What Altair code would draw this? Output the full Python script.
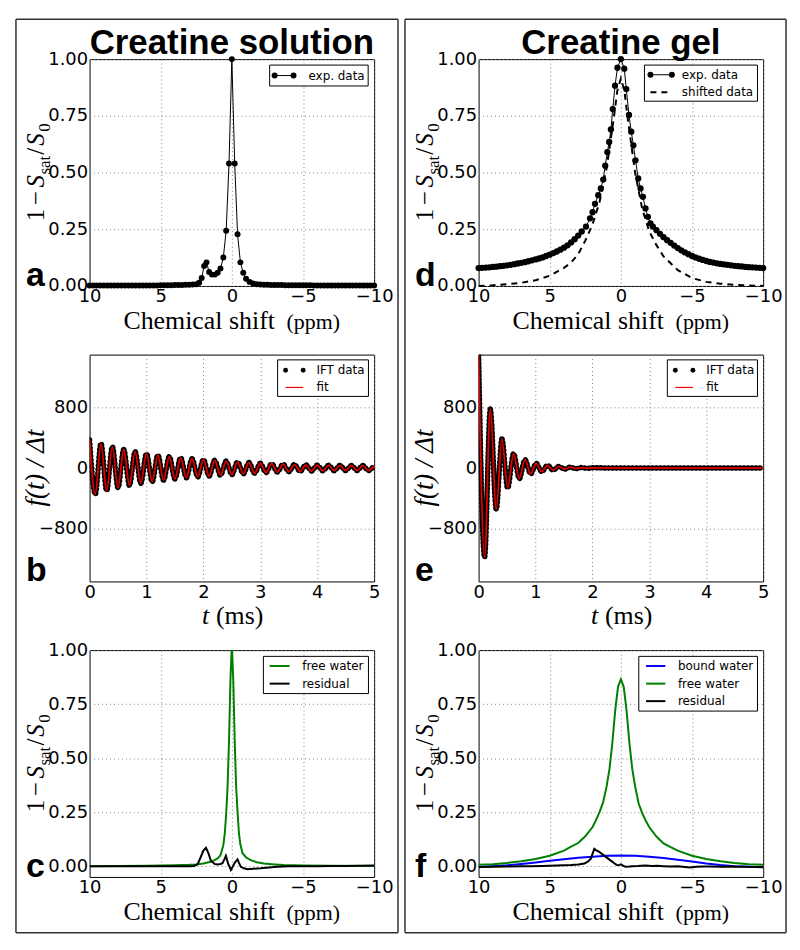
import altair as alt
import pandas as pd

# ---------------- data ----------------
# (a) creatine solution, measured Z-spectrum
a_ppm = [10.0, 9.75, 9.5, 9.25, 9.0, 8.75, 8.5, 8.25, 8.0, 7.75, 7.5, 7.25, 7.0, 6.75, 6.5, 6.25,
         6.0, 5.75, 5.5, 5.25, 5.0, 4.75, 4.5, 4.25, 4.0, 3.75, 3.5, 3.25, 3.0, 2.75,
         2.5, 2.3, 2.12, 1.95, 1.78, 1.6, 1.4, 1.2, 1.0, 0.8, 0.6, 0.4, 0.2, 0.0,
         -0.2, -0.4, -0.6, -0.8, -1.0, -1.25, -1.5, -1.75, -2.0,
         -2.25, -2.5, -2.75, -3.0, -3.25, -3.5, -3.75, -4.0, -4.25, -4.5, -4.75, -5.0,
         -5.25, -5.5, -5.75, -6.0, -6.25, -6.5, -6.75, -7.0, -7.25, -7.5, -7.75, -8.0,
         -8.25, -8.5, -8.75, -9.0, -9.25, -9.5, -9.75, -10.0]
a_val = [0.002, 0.002, 0.002, 0.002, 0.002, 0.002, 0.002, 0.002, 0.002, 0.002, 0.002, 0.002, 0.002,
         0.002, 0.002, 0.002, 0.002, 0.002, 0.002, 0.002, 0.003, 0.003, 0.003, 0.003, 0.004, 0.004,
         0.004, 0.005, 0.005, 0.006,
         0.008, 0.014, 0.035, 0.088, 0.104, 0.062, 0.05, 0.05, 0.058, 0.077, 0.125, 0.243, 0.54, 1.0,
         0.54, 0.228, 0.104, 0.058, 0.032, 0.018, 0.011, 0.008, 0.006,
         0.005, 0.005, 0.004, 0.004, 0.004, 0.004, 0.003, 0.003, 0.003, 0.003, 0.003, 0.003,
         0.003, 0.003, 0.002, 0.002, 0.002, 0.002, 0.002, 0.002, 0.002, 0.002, 0.002, 0.002,
         0.002, 0.002, 0.002, 0.002, 0.002, 0.002, 0.002, 0.002]

# (d) creatine gel, measured Z-spectrum and shifted data
d_ppm = [10.0, 9.75, 9.5, 9.25, 9.0, 8.75, 8.5, 8.25, 8.0, 7.75, 7.5, 7.25, 7.0, 6.75, 6.5, 6.25,
         6.0, 5.75, 5.5, 5.25, 5.0, 4.75, 4.5, 4.25, 4.0, 3.75, 3.5, 3.25, 3.0, 2.75,
         2.45, 2.17, 1.99, 1.82, 1.59, 1.41, 1.24, 1.1, 0.95, 0.82, 0.7, 0.57, 0.41, 0.24, 0.0,
         -0.24, -0.38, -0.57, -0.73, -0.88, -1.03, -1.22, -1.38, -1.55, -1.73, -1.9, -2.08,
         -2.25, -2.5, -2.75, -3.0, -3.25, -3.5, -3.75, -4.0, -4.25, -4.5, -4.75, -5.0,
         -5.25, -5.5, -5.75, -6.0, -6.25, -6.5, -6.75, -7.0, -7.25, -7.5, -7.75, -8.0,
         -8.25, -8.5, -8.75, -9.0, -9.25, -9.5, -9.75, -10.0]
d_val = [0.079, 0.080, 0.081, 0.082, 0.084, 0.085, 0.087, 0.089, 0.091, 0.093, 0.096, 0.099, 0.102,
         0.105, 0.109, 0.113, 0.117, 0.121, 0.126, 0.132, 0.138, 0.145, 0.152, 0.160, 0.169, 0.179,
         0.192, 0.206, 0.222, 0.240,
         0.262, 0.298, 0.325, 0.362, 0.40, 0.43, 0.469, 0.53, 0.59, 0.635, 0.69, 0.78, 0.883, 0.962, 1.0,
         0.958, 0.868, 0.754, 0.68, 0.62, 0.554, 0.474, 0.43, 0.393, 0.342, 0.305, 0.276,
         0.262, 0.246, 0.230, 0.215, 0.202, 0.190, 0.178, 0.167, 0.157, 0.148, 0.140, 0.132,
         0.126, 0.120, 0.115, 0.110, 0.106, 0.103, 0.100, 0.097, 0.095, 0.093, 0.091, 0.089,
         0.087, 0.086, 0.084, 0.083, 0.082, 0.081, 0.080, 0.079]
ds_ppm = [10.0, 9.0, 8.0, 7.0, 6.0, 5.0, 4.0, 3.5, 3.0, 2.5, 2.0, 1.5, 1.0, 0.5, 0.25, 0.0,
          -0.25, -0.5, -1.0, -1.5, -2.0, -2.5, -3.0, -3.5, -4.0, -5.0, -6.0, -7.0, -8.0, -9.0, -10.0]
ds_val = [0.0, 0.003, 0.008, 0.014, 0.025, 0.045, 0.08, 0.103, 0.14, 0.2, 0.27, 0.37, 0.52, 0.74, 0.86,
          0.915, 0.86, 0.73, 0.5, 0.34, 0.24, 0.18, 0.13, 0.1, 0.07, 0.035, 0.018, 0.01, 0.005, 0.002, 0.0]

# (b) creatine solution, IFT data (extrema of the oscillation)
b_t = [0.0, 0.1, 0.2, 0.3, 0.4, 0.5, 0.6, 0.7, 0.8, 0.9, 1.0, 1.1, 1.2, 1.3, 1.4, 1.5, 1.6, 1.7,
       1.8, 1.9, 2.0, 2.1, 2.2, 2.3, 2.4, 2.5, 2.6, 2.7, 2.8, 2.9, 3.0, 3.1, 3.2, 3.3, 3.4, 3.5,
       3.6, 3.7, 3.8, 3.9, 4.0, 4.1, 4.2, 4.3, 4.4, 4.5, 4.6, 4.7, 4.8, 4.9, 5.0]
b_f = [375, -345, 325, -300, 280, -262, 245, -230, 215, -202, 190, -180, 170, -160, 152, -144,
       136, -129, 123, -117, 112, -106, 101, -96, 91, -86, 81, -76, 72, -68, 63, -60, 57, -54,
       51, -48, 46, -44, 42, -40, 38, -37, 36, -35, 35, -34, 34, -33, 33, -32, 32]

# (e) creatine gel, IFT data (extrema of the oscillation)
e_t = [0.0, 0.105, 0.205, 0.31, 0.41, 0.51, 0.615, 0.715, 0.815, 0.915, 1.01, 1.11, 1.21, 1.31,
       1.41, 1.51, 1.61, 1.71, 1.81, 1.91, 2.0, 2.5, 3.0, 3.5, 4.0, 4.5, 5.0]
e_f = [1490, -1180, 780, -545, 385, -265, 190, -140, 110, -78, 62, -48, 36, -28, 21, -15, 11, -8,
       6, -4, 3, 0, 0, 0, 0, 0, 0]

# (c) creatine solution, fitted free water and residual
cf_ppm = [10.0, 8.0, 6.0, 5.0, 4.0, 3.0, 2.5, 2.0, 1.5, 1.25, 1.0, 0.8, 0.6, 0.5, 0.4, 0.3, 0.2, 0.1,
          0.0, -0.1, -0.2, -0.3, -0.4, -0.5, -0.6, -0.75, -1.0, -1.33, -1.75, -2.25, -3.0, -3.66,
          -5.0, -7.0, -10.0]
cf_val = [0.0, 0.001, 0.002, 0.003, 0.004, 0.006, 0.008, 0.012, 0.02, 0.027, 0.036, 0.05, 0.097,
          0.15, 0.24, 0.37, 0.58, 0.86, 1.03, 0.86, 0.58, 0.37, 0.25, 0.15, 0.1, 0.06, 0.04, 0.028,
          0.018, 0.012, 0.008, 0.005, 0.003, 0.002, 0.001]
cr_ppm = [10.0, 8.0, 6.0, 4.0, 3.0, 2.64, 2.4, 2.2, 2.0, 1.82, 1.65, 1.47, 1.2, 1.0, 0.8, 0.66, 0.5,
          0.42, 0.34, 0.26, 0.15, 0.07, -0.02, -0.12, -0.25, -0.4, -0.5, -0.63, -0.85, -1.1, -1.5,
          -2.03, -2.6, -3.2, -4.0, -5.0, -6.0, -7.0, -8.0, -9.0, -10.0]
cr_val = [0.0, 0.0, 0.0, -0.001, 0.0, 0.001, 0.01, 0.04, 0.072, 0.085, 0.06, 0.025, 0.01, 0.008,
          0.01, 0.014, 0.035, 0.048, 0.03, 0.01, -0.005, -0.018, -0.008, 0.005, 0.02, 0.031, 0.015,
          -0.003, -0.01, -0.014, -0.012, -0.01, -0.006, -0.003, -0.001, 0.0, 0.0, 0.001, 0.001,
          0.002, 0.003]

# (f) creatine gel, fitted bound water, free water and residual
fb_ppm = [10.0, 9.0, 8.0, 7.0, 6.0, 5.0, 4.0, 3.0, 2.0, 1.0, 0.0, -1.0, -2.0, -3.0, -4.0, -5.0,
          -6.0, -7.0, -8.0, -9.0, -10.0]
fb_val = [-0.004, 0.0, 0.004, 0.01, 0.017, 0.025, 0.032, 0.039, 0.044, 0.048, 0.049, 0.048, 0.044,
          0.038, 0.03, 0.021, 0.012, 0.005, 0.0, -0.003, -0.005]
ff_ppm = [10.0, 9.0, 8.0, 7.0, 6.0, 5.0, 4.0, 3.5, 3.0, 2.5, 2.0, 1.75, 1.5, 1.25, 1.0, 0.8, 0.6,
          0.4, 0.2, 0.0, -0.2, -0.4, -0.6, -0.8, -1.0, -1.25, -1.5, -1.75, -2.0, -2.5, -3.0, -3.5,
          -4.0, -5.0, -6.0, -7.0, -8.0, -9.0, -10.0]
ff_val = [0.006, 0.009, 0.015, 0.023, 0.033, 0.048, 0.072, 0.09, 0.107, 0.138, 0.18, 0.213, 0.25,
          0.295, 0.37, 0.45, 0.57, 0.72, 0.83, 0.865, 0.83, 0.72, 0.57, 0.45, 0.37, 0.29, 0.245,
          0.21, 0.18, 0.137, 0.105, 0.088, 0.072, 0.048, 0.033, 0.023, 0.015, 0.009, 0.006]
fr_ppm = [10.0, 9.0, 8.0, 7.0, 6.5, 5.5, 4.5, 3.5, 3.0, 2.56, 2.3, 2.1, 1.95, 1.87, 1.75, 1.52,
          1.3, 1.06, 0.8, 0.59, 0.4, 0.24, 0.1, 0.0, -0.15, -0.33, -0.6, -0.8, -1.2, -1.7, -2.2,
          -2.6, -3.0, -3.5, -4.0, -4.5, -4.87, -5.3, -5.8, -6.3, -7.0, -7.6, -8.6, -9.3, -10.0]
fr_val = [-0.004, -0.003, -0.002, -0.001, 0.0, 0.001, 0.003, 0.005, 0.008, 0.012, 0.022, 0.036,
          0.065, 0.08, 0.074, 0.066, 0.055, 0.043, 0.03, 0.02, 0.01, 0.004, 0.006, 0.008, 0.002,
          -0.003, -0.002, 0.0, 0.001, 0.003, 0.001, 0.002, 0.0, -0.002, -0.001, -0.004, -0.006,
          -0.003, -0.002, -0.002, -0.003, -0.002, -0.003, -0.004, -0.004]

ppm_ticks = [10, 5, 0, -5, -10]
frac_ticks = [0.0, 0.25, 0.5, 0.75, 1.0]
t_ticks = [0, 1, 2, 3, 4, 5]
f_ticks = [-800, 0, 800]

# ---------------- styling helpers ----------------
W, H = 286, 228
SANS = "DejaVu Sans"
SERIF = "Liberation Serif"
GREEN = "#008000"
BLUE = "#0000ff"
RED = "#ff0000"
TB = 271  # baseline of the x-axis titles, below the plot top


def one():
    return alt.Data(values=[{"k": 0}])


def hrule(x1, x2, y, color="black", width=1.0, dash=None):
    kw = {"color": color, "strokeWidth": width}
    if dash is not None:
        kw["strokeDash"] = dash
    return alt.Chart(one()).mark_rule(**kw).encode(x=alt.value(x1), x2=alt.value(x2), y=alt.value(y))


def vrule(x, y1, y2, color="black", width=1.0):
    return alt.Chart(one()).mark_rule(color=color, strokeWidth=width).encode(
        x=alt.value(x), y=alt.value(y1), y2=alt.value(y2))


def txt(s, x, y, size, font=SANS, weight="normal", style="normal", align="left",
        baseline="alphabetic", angle=0):
    return alt.Chart(one()).mark_text(
        font=font, fontSize=size, fontWeight=weight, fontStyle=style, align=align,
        baseline=baseline, angle=angle, color="black"
    ).encode(x=alt.value(x), y=alt.value(y), text=alt.value(s))


def dot(x, y, size):
    return alt.Chart(one()).mark_circle(color="black", size=size, opacity=1).encode(
        x=alt.value(x), y=alt.value(y))


def box(x1, x2, y1, y2):
    return alt.Chart(one()).mark_rect(fill="white", stroke="black", strokeWidth=1).encode(
        x=alt.value(x1), x2=alt.value(x2), y=alt.value(y1), y2=alt.value(y2))


def frame(right):
    c = "#333333"
    return [hrule(-74, right, -40, c, 1.5), hrule(-74, right, 878, c, 1.5),
            vrule(-74, -40, 878, c, 1.5), vrule(right, -40, 878, c, 1.5)]


def ytitle_spec():
    # 1−S_sat/S_0 written bottom-to-top
    bx, sx = -46, -40
    return [
        txt("1", bx, 163, 25, SERIF, angle=270),
        txt("−", bx, 147, 25, SERIF, angle=270),
        txt("S", bx, 129, 25, SERIF, style="italic", angle=270),
        txt("sat", sx, 116, 17, SERIF, angle=270),
        txt("/", bx, 96, 25, SERIF, angle=270),
        txt("S", bx, 87, 25, SERIF, style="italic", angle=270),
        txt("0", sx, 73, 17, SERIF, angle=270),
    ]


def ytitle_ift():
    return [txt("f(t) / Δt", -46, 114, 27, SERIF, style="italic", align="center", angle=270)]


def xtitle_ppm():
    return [txt("Chemical shift", 34, TB, 26, SERIF),
            txt("(ppm)", 198, TB, 22, SERIF)]


def xtitle_t():
    return [txt("t", 113, TB, 26, SERIF, style="italic"),
            txt("(ms)", 127, TB, 26, SERIF)]


def xs_ppm():
    return alt.X("x:Q", scale=alt.Scale(domain=[10, -10]),
                 axis=alt.Axis(values=ppm_ticks, format="d", title=None, labelPadding=2))


def xs_t():
    return alt.X("x:Q", scale=alt.Scale(domain=[0, 5]),
                 axis=alt.Axis(values=t_ticks, format="d", title=None, labelPadding=2))


def ys(domain, ticks, fmt):
    return alt.Y("y:Q", scale=alt.Scale(domain=domain),
                 axis=alt.Axis(values=ticks, format=fmt, title=None, labelPadding=2))


def df(x, y):
    return pd.DataFrame({"x": x, "y": y})


# ---------------- panel a ----------------
ya = ys([0, 1], frac_ticks, ".2f")
a_line = alt.Chart(df(a_ppm, a_val)).mark_line(color="black", strokeWidth=1).encode(x=xs_ppm(), y=ya)
a_pts = alt.Chart(df(a_ppm, a_val)).mark_circle(color="black", size=36, opacity=1).encode(x=xs_ppm(), y=ya)
panel_a = alt.layer(
    a_line, a_pts,
    box(181, 280, 6, 27), hrule(186, 205, 16.5), dot(186, 16.5, 36), dot(205, 16.5, 36),
    txt("exp. data", 220, 16.5, 12, baseline="middle"),
    txt("Creatine solution", 143, -5, 35, "Liberation Sans", weight="bold", align="center"),
    txt("a", -64, 228, 34, "Liberation Sans", weight="bold"),
    *ytitle_spec(), *xtitle_ppm(), *frame(310),
).properties(width=W, height=H)

# ---------------- panel d ----------------
d_line = alt.Chart(df(d_ppm, d_val)).mark_line(color="black", strokeWidth=1).encode(x=xs_ppm(), y=ya)
d_pts = alt.Chart(df(d_ppm, d_val)).mark_circle(color="black", size=40, opacity=1).encode(x=xs_ppm(), y=ya)
d_shift = alt.Chart(df(ds_ppm, ds_val)).mark_line(
    color="black", strokeWidth=2, strokeDash=[6, 5]).encode(x=xs_ppm(), y=ya)
panel_d = alt.layer(
    d_shift, d_line, d_pts,
    box(166.7, 280.3, 6, 42.3), hrule(172.7, 194.3, 15.7), dot(172.7, 15.7, 36), dot(194.3, 15.7, 36),
    txt("exp. data", 204.3, 15.7, 12, baseline="middle"),
    hrule(172.7, 194.3, 33.3, width=2, dash=[6, 5]),
    txt("shifted data", 204.3, 33.3, 12, baseline="middle"),
    txt("Creatine gel", 143, -5, 35, "Liberation Sans", weight="bold", align="center"),
    txt("d", -64, 228, 34, "Liberation Sans", weight="bold"),
    *ytitle_spec(), *xtitle_ppm(), *frame(309),
).properties(width=W, height=H)

# ---------------- panels b, e ----------------
yb = ys([-1500, 1500], f_ticks, "d")


def ift_panel(t, f, letter, lx):
    dots = alt.Chart(df(t, f)).mark_line(
        color="black", strokeWidth=5.5, strokeCap="round", strokeDash=[0.5, 3.5],
        interpolate="monotone", clip=True).encode(x=xs_t(), y=yb)
    fit = alt.Chart(df(t, f)).mark_line(
        color="#e00000", strokeWidth=1.8, interpolate="monotone", clip=True).encode(x=xs_t(), y=yb)
    return alt.layer(
        dots, fit,
        box(lx, 280.3, 5.3, 42), dot(lx + 8, 15.7, 24), dot(lx + 25.7, 15.7, 24),
        txt("IFT data", lx + 39, 15.7, 12, baseline="middle"),
        hrule(lx + 8, lx + 25.7, 33, color=RED, width=1.2),
        txt("fit", lx + 39, 33, 12, baseline="middle"),
        txt(letter, -64, 228, 34, "Liberation Sans", weight="bold"),
        *ytitle_ift(), *xtitle_t(),
    ).properties(width=W, height=H)


panel_b = ift_panel(b_t, b_f, "b", 189)
panel_e = ift_panel(e_t, e_f, "e", 189.7)

# ---------------- panels c, f ----------------
yc = ys([-0.05, 1.0], frac_ticks, ".2f")


def curve(x, y, color):
    return alt.Chart(df(x, y)).mark_line(color=color, strokeWidth=2, clip=True).encode(x=xs_ppm(), y=yc)


panel_c = alt.layer(
    curve(cf_ppm, cf_val, GREEN), curve(cr_ppm, cr_val, "black"),
    box(174.7, 280.3, 6.3, 43.7),
    hrule(181, 201, 16, color=GREEN, width=2), txt("free water", 213.7, 16, 12, baseline="middle"),
    hrule(181, 201, 33.7, color="black", width=2), txt("residual", 213.7, 33.7, 12, baseline="middle"),
    txt("c", -64, 228, 34, "Liberation Sans", weight="bold"),
    *ytitle_spec(), *xtitle_ppm(),
).properties(width=W, height=H)

panel_f = alt.layer(
    curve(fb_ppm, fb_val, BLUE), curve(ff_ppm, ff_val, GREEN), curve(fr_ppm, fr_val, "black"),
    box(161, 280.3, 6.3, 61.3),
    hrule(168.3, 187.7, 16, color=BLUE, width=2), txt("bound water", 200.3, 16, 12, baseline="middle"),
    hrule(168.3, 187.7, 33.7, color=GREEN, width=2), txt("free water", 200.3, 33.7, 12, baseline="middle"),
    hrule(168.3, 187.7, 51.3, color="black", width=2), txt("residual", 200.3, 51.3, 12, baseline="middle"),
    txt("f", -64, 228, 34, "Liberation Sans", weight="bold"),
    *ytitle_spec(), *xtitle_ppm(),
).properties(width=W, height=H)

chart = alt.concat(
    panel_a, panel_d, panel_b, panel_e, panel_c, panel_f,
    columns=2, spacing={"row": 69, "column": 105}, bounds="flush",
).properties(
    padding={"left": 6, "top": 7, "right": 4, "bottom": 4}
).configure_axis(
    labelFont=SANS, labelFontSize=18, labelColor="black", ticks=False, domain=False,
    labelFlush=False, labelOverlap=False,
    grid=True, gridColor="#808080", gridDash=[1, 3], gridWidth=1,
).configure_view(stroke="black", strokeWidth=1)

chart.save("out.html", embed_options={"renderer": "svg", "actions": False})
